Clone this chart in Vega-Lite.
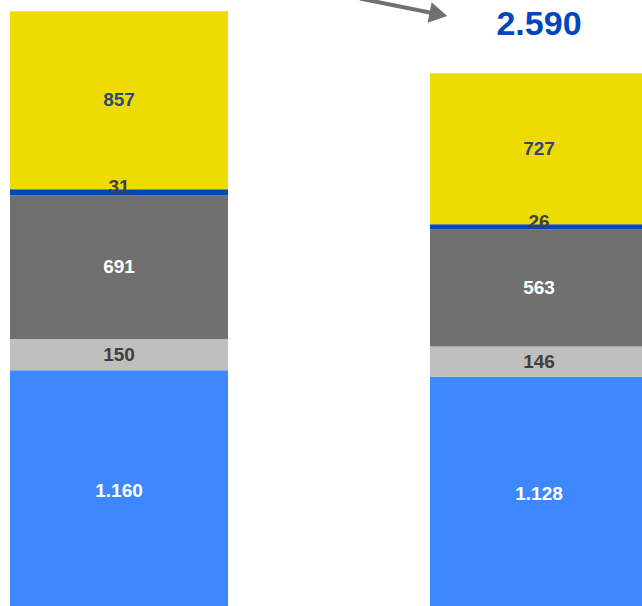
{
  "$schema": "https://vega.github.io/schema/vega-lite/v6.json",
  "width": 642,
  "height": 606,
  "padding": 0,
  "autosize": {"type": "none"},
  "config": {
    "view": {"stroke": null},
    "locale": {"number": {"decimal": ",", "thousands": ".", "grouping": [3], "currency": ["", " €"]}},
    "text": {"font": "Liberation Sans", "fontWeight": "bold"}
  },
  "datasets": {
    "segments": [
      {"period": "P1", "segment": "Segment 1", "rank": 1, "value": 1160},
      {"period": "P1", "segment": "Segment 2", "rank": 2, "value": 150},
      {"period": "P1", "segment": "Segment 3", "rank": 3, "value": 691},
      {"period": "P1", "segment": "Segment 4", "rank": 4, "value": 31},
      {"period": "P1", "segment": "Segment 5", "rank": 5, "value": 857},
      {"period": "P2", "segment": "Segment 1", "rank": 1, "value": 1128},
      {"period": "P2", "segment": "Segment 2", "rank": 2, "value": 146},
      {"period": "P2", "segment": "Segment 3", "rank": 3, "value": 563},
      {"period": "P2", "segment": "Segment 4", "rank": 4, "value": 26},
      {"period": "P2", "segment": "Segment 5", "rank": 5, "value": 727}
    ],
    "arrow": [
      {"x": 0.5748, "y": 2950.2, "x2": 0.7615, "y2": 2874.5}
    ]
  },
  "layer": [
    {
      "data": {"name": "segments"},
      "layer": [
        {
          "transform": [
            {"stack": "value", "groupby": ["period"], "sort": [{"field": "rank", "order": "ascending"}], "as": ["v0", "v1"]}
          ],
          "mark": {"type": "bar", "clip": true},
          "encoding": {
            "x": {"field": "period", "type": "nominal", "axis": null,
              "scale": {"type": "band", "range": [0, 658], "paddingInner": 0.481, "paddingOuter": 0.0238}},
            "y": {"field": "v0", "type": "quantitative", "axis": null,
              "scale": {"domain": [24, 2943], "nice": false, "zero": false}},
            "y2": {"field": "v1"},
            "color": {"field": "segment", "type": "nominal", "legend": null,
              "scale": {"domain": ["Segment 1", "Segment 2", "Segment 3", "Segment 4", "Segment 5"],
                "range": ["#3D88FF", "#BFBFBF", "#707070", "#0047BB", "#EEDC00"]}}
          }
        },
        {
          "transform": [
            {"stack": "value", "groupby": ["period"], "sort": [{"field": "rank", "order": "ascending"}], "as": ["v0", "v1"]},
            {"calculate": "(datum.v0 + datum.v1) / 2", "as": "mid"},
            {"filter": "datum.segment != 'Segment 4'"}
          ],
          "mark": {"type": "text", "fontSize": 19, "baseline": "middle", "align": "center", "clip": true},
          "encoding": {
            "x": {"field": "period", "type": "nominal", "axis": null,
              "scale": {"type": "band", "range": [0, 658], "paddingInner": 0.481, "paddingOuter": 0.0238}},
            "y": {"field": "mid", "type": "quantitative", "axis": null},
            "text": {"field": "value", "type": "quantitative", "format": ",.0f"},
            "color": {"field": "segment", "type": "nominal", "legend": null,
              "scale": {"domain": ["Segment 1", "Segment 2", "Segment 3", "Segment 5"],
                "range": ["#FFFFFF", "#404040", "#FFFFFF", "#2B4A78"]}}
          }
        },
        {
          "transform": [
            {"stack": "value", "groupby": ["period"], "sort": [{"field": "rank", "order": "ascending"}], "as": ["v0", "v1"]},
            {"calculate": "(datum.v0 + datum.v1) / 2", "as": "mid"},
            {"filter": "datum.segment == 'Segment 4'"}
          ],
          "mark": {"type": "text", "fontSize": 19, "baseline": "middle", "align": "center", "dy": -5, "color": "#404040", "clip": true},
          "encoding": {
            "x": {"field": "period", "type": "nominal", "axis": null,
              "scale": {"type": "band", "range": [0, 658], "paddingInner": 0.481, "paddingOuter": 0.0238}},
            "y": {"field": "mid", "type": "quantitative", "axis": null},
            "text": {"field": "value", "type": "quantitative", "format": ",.0f"}
          }
        },
        {
          "transform": [
            {"aggregate": [{"op": "sum", "field": "value", "as": "total"}], "groupby": ["period"]},
            {"filter": "datum.period == 'P2'"}
          ],
          "mark": {"type": "text", "fontSize": 34, "baseline": "middle", "align": "center", "dy": -48, "color": "#0047BB"},
          "encoding": {
            "x": {"field": "period", "type": "nominal", "axis": null,
              "scale": {"type": "band", "range": [0, 658], "paddingInner": 0.481, "paddingOuter": 0.0238}},
            "y": {"field": "total", "type": "quantitative", "axis": null},
            "text": {"field": "total", "type": "quantitative", "format": ",.0f"}
          }
        }
      ],
      "resolve": {"scale": {"color": "independent"}}
    },
    {
      "data": {"name": "arrow"},
      "layer": [
        {
          "mark": {"type": "rule", "strokeWidth": 4, "color": "#707070", "clip": true},
          "encoding": {
            "x": {"field": "x", "type": "quantitative", "axis": null,
              "scale": {"domain": [-0.2824, 1.2462], "nice": false, "zero": false}},
            "x2": {"field": "x2"},
            "y": {"field": "y", "type": "quantitative", "axis": null},
            "y2": {"field": "y2"}
          }
        },
        {
          "mark": {"type": "point", "shape": "triangle-right", "filled": true, "size": 430, "angle": 11.3, "color": "#707070", "opacity": 1},
          "encoding": {
            "x": {"field": "x2", "type": "quantitative", "axis": null},
            "y": {"field": "y2", "type": "quantitative", "axis": null}
          }
        }
      ]
    }
  ],
  "resolve": {"scale": {"x": "independent"}}
}
